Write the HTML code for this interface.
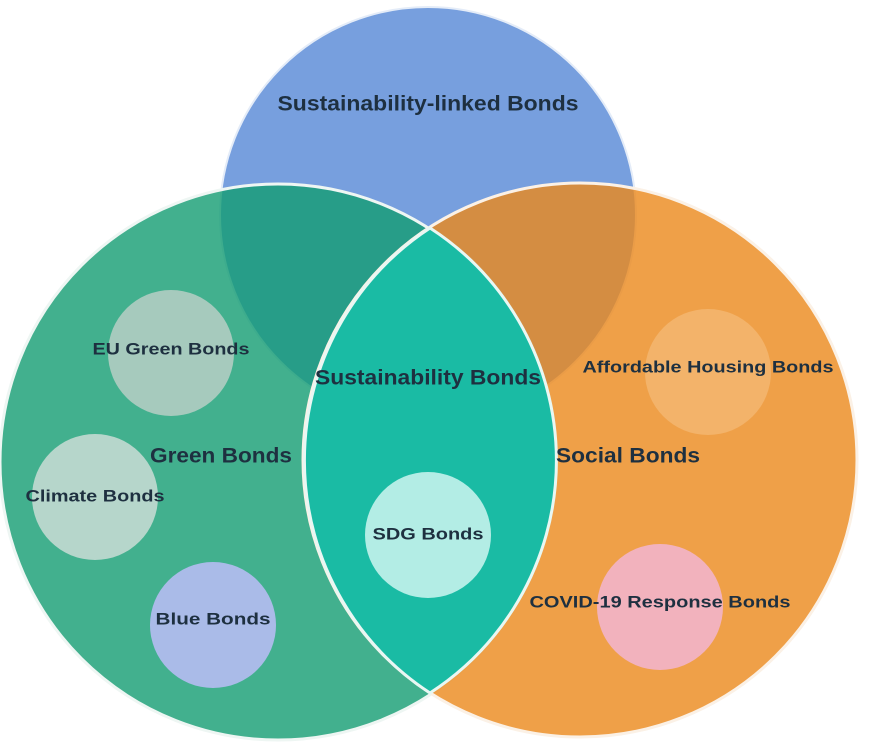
<!DOCTYPE html>
<html><head><style>
html,body{margin:0;padding:0;background:#fff;}
svg{display:block;}
text{font-family:"Liberation Sans",Arial,sans-serif;font-weight:bold;fill:#1e3040;text-anchor:middle;dominant-baseline:central;}
</style></head><body>
<svg width="874" height="752" viewBox="0 0 874 752" xmlns="http://www.w3.org/2000/svg">
<circle cx="428" cy="215" r="208" fill="#779fde" stroke="#e4ecf8" stroke-width="2"/>
<circle cx="278" cy="462" r="278" fill="#139c72" fill-opacity="0.8" stroke="#eef6f3" stroke-width="3"/>
<circle cx="580" cy="460" r="277" fill="#eb881a" fill-opacity="0.8" stroke="#fbf1e6" stroke-width="3"/>
<path d="M430,228 A277,277 0 0 1 430,693 A278,278 0 0 1 430,228 Z" fill="#1abba4" stroke="#e8f7f3" stroke-width="3"/>
<circle cx="171" cy="353" r="63" fill="#a6cabd"/>
<circle cx="95" cy="497" r="63" fill="#b6d6cb"/>
<circle cx="213" cy="625" r="63" fill="#aabbe8"/>
<circle cx="428" cy="535" r="63" fill="#b3ede5"/>
<circle cx="708" cy="372" r="63" fill="#f3b36a"/>
<circle cx="660" cy="607" r="63" fill="#f2b2bd"/>
<text x="428" y="104" font-size="21" textLength="301" lengthAdjust="spacingAndGlyphs">Sustainability-linked Bonds</text>
<text x="428" y="378" font-size="21" textLength="226" lengthAdjust="spacingAndGlyphs">Sustainability Bonds</text>
<text x="221" y="456" font-size="21" textLength="142" lengthAdjust="spacingAndGlyphs">Green Bonds</text>
<text x="628" y="456" font-size="21" textLength="144" lengthAdjust="spacingAndGlyphs">Social Bonds</text>
<text x="171" y="349" font-size="17" textLength="157" lengthAdjust="spacingAndGlyphs">EU Green Bonds</text>
<text x="95" y="496" font-size="17" textLength="139" lengthAdjust="spacingAndGlyphs">Climate Bonds</text>
<text x="213" y="619" font-size="17" textLength="115" lengthAdjust="spacingAndGlyphs">Blue Bonds</text>
<text x="428" y="534" font-size="17" textLength="111" lengthAdjust="spacingAndGlyphs">SDG Bonds</text>
<text x="708" y="367" font-size="17" textLength="251" lengthAdjust="spacingAndGlyphs">Affordable Housing Bonds</text>
<text x="660" y="602" font-size="17" textLength="261" lengthAdjust="spacingAndGlyphs">COVID-19 Response Bonds</text>
</svg>
</body></html>
